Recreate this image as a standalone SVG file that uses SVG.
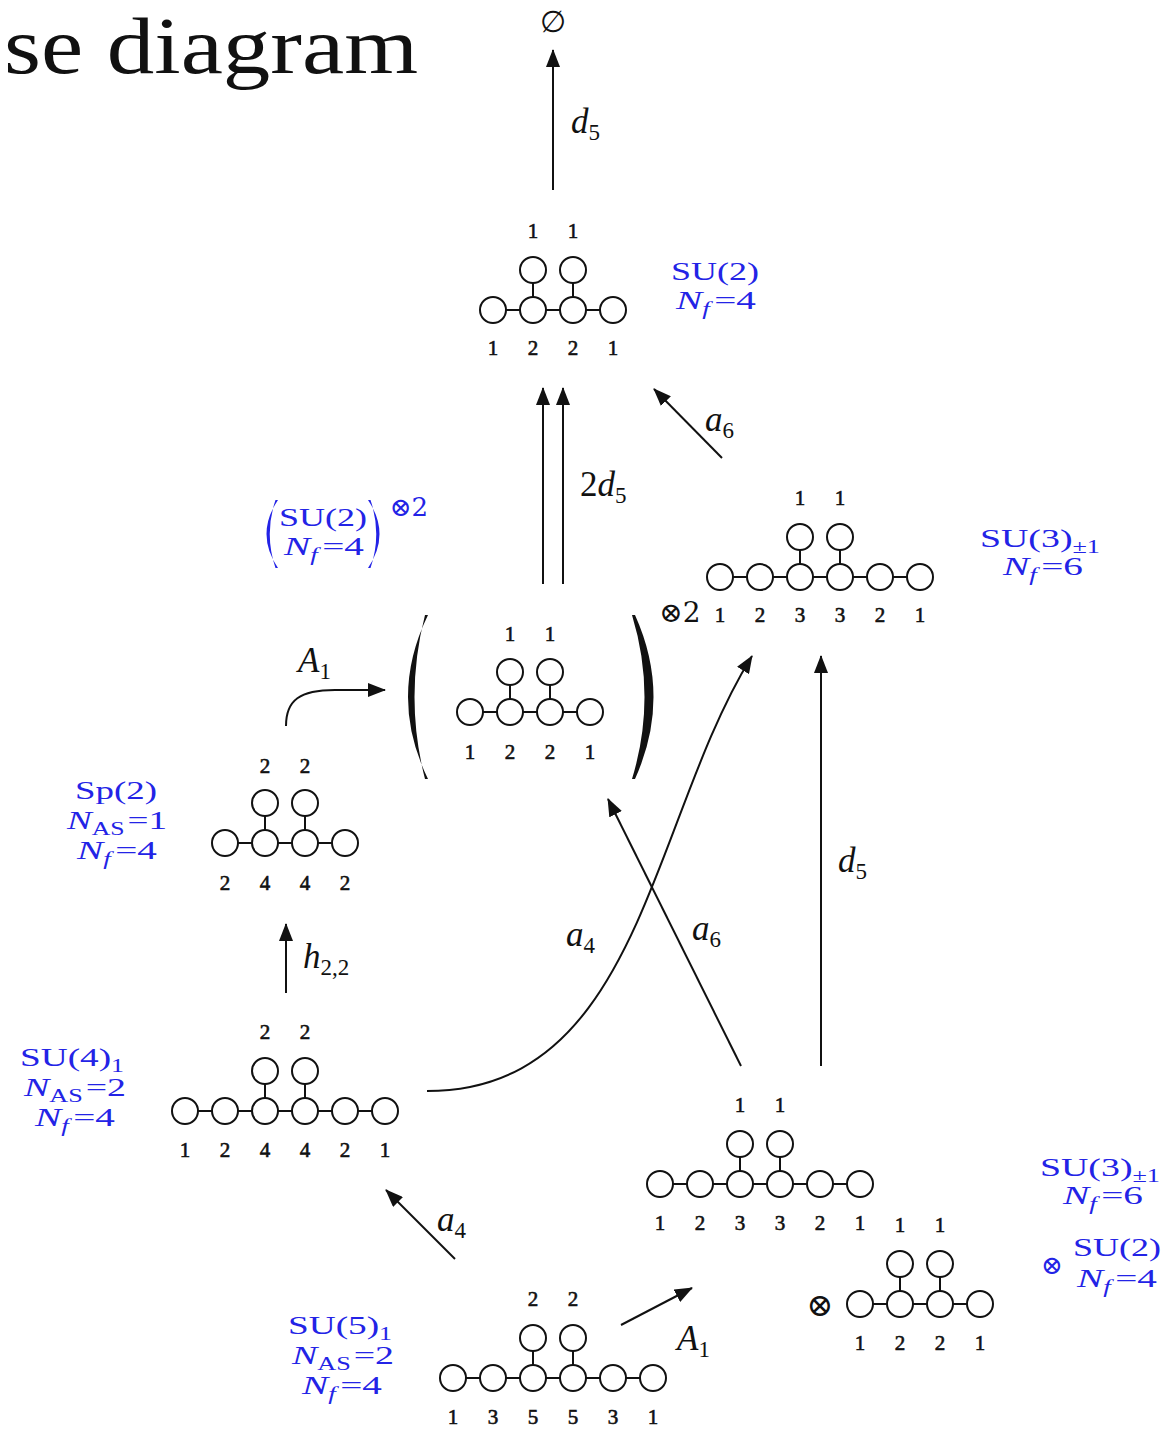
<svg xmlns="http://www.w3.org/2000/svg" width="1165" height="1429" viewBox="0 0 1165 1429">
<defs>
<style>
.bg{fill:#ffffff}
.ln{stroke:#111;stroke-width:2;fill:none}
.nd{stroke:#111;stroke-width:2;fill:#fff}
.num{font-family:"Liberation Serif",serif;font-size:21px;fill:#111;stroke:#111;stroke-width:0.6;text-anchor:middle}
.blue{font-family:"Liberation Serif",serif;font-size:26px;fill:#2323e6;text-anchor:middle}
.math{font-family:"Liberation Serif",serif;font-size:35px;font-style:italic;fill:#111}
.sub{font-size:23px;font-style:normal}
.bsub{font-size:18px}
.it{font-style:italic}
.arr{stroke:#111;stroke-width:2;fill:none;marker-end:url(#ah)}
</style>
<marker id="ah" markerWidth="18" markerHeight="14" refX="17" refY="7" orient="auto" markerUnits="userSpaceOnUse">
<path d="M0,0 L18,7 L0,14 z" fill="#111"/>
</marker>
</defs>
<rect class="bg" width="1165" height="1429"/>

<text x="4" y="73" font-family="Liberation Serif, serif" font-size="80" fill="#111" textLength="414" lengthAdjust="spacingAndGlyphs">se diagram</text>

<g id="connectors">
<path class="arr" d="M553,190 V50"/>
<path class="arr" d="M543,584 V388"/>
<path class="arr" d="M563,584 V388"/>
<path class="arr" d="M722,458 L654,389"/>
<path class="arr" d="M286,726 C286,700 300,690 335,690 L385,690"/>
<path class="arr" d="M286,993 V924"/>
<path class="arr" d="M427,1091 C640,1091 650,820 752,656"/>
<path class="arr" d="M741,1066 L608,799"/>
<path class="arr" d="M821,1066 V656"/>
<path class="arr" d="M455,1259 L386,1190"/>
<path class="arr" d="M621,1325 L692,1288"/>
</g>

<g id="edge-labels">
<text x="553" y="32" font-family="DejaVu Serif, serif" font-size="30" fill="#111" text-anchor="middle">∅</text>
<text class="math" x="571" y="133">d<tspan class="sub" dy="7">5</tspan></text>
<text class="math" x="580" y="496"><tspan font-style="normal">2</tspan>d<tspan class="sub" dy="7">5</tspan></text>
<text class="math" x="705" y="431">a<tspan class="sub" dy="7">6</tspan></text>
<text class="math" x="298" y="672">A<tspan class="sub" dy="7">1</tspan></text>
<text class="math" x="303" y="968">h<tspan class="sub" dy="7">2,2</tspan></text>
<text class="math" x="566" y="946">a<tspan class="sub" dy="7">4</tspan></text>
<text class="math" x="692" y="940">a<tspan class="sub" dy="7">6</tspan></text>
<text class="math" x="838" y="872">d<tspan class="sub" dy="7">5</tspan></text>
<text class="math" x="437" y="1231">a<tspan class="sub" dy="7">4</tspan></text>
<text class="math" x="677" y="1350">A<tspan class="sub" dy="7">1</tspan></text>
</g>

<!-- top SU(2) quiver -->
<g id="node-su2-top">
<path class="ln" d="M493,310 H613 M533,270 V310 M573,270 V310"/>
<circle class="nd" cx="493" cy="310" r="13"/><circle class="nd" cx="533" cy="310" r="13"/><circle class="nd" cx="573" cy="310" r="13"/><circle class="nd" cx="613" cy="310" r="13"/>
<circle class="nd" cx="533" cy="270" r="13"/><circle class="nd" cx="573" cy="270" r="13"/>
<text class="num" x="533" y="238">1</text><text class="num" x="573" y="238">1</text>
<text class="num" x="493" y="355">1</text><text class="num" x="533" y="355">2</text><text class="num" x="573" y="355">2</text><text class="num" x="613" y="355">1</text>
<text class="blue" x="715" y="280" textLength="88" lengthAdjust="spacingAndGlyphs">SU(2)</text>
<text class="blue" x="716" y="309" textLength="80" lengthAdjust="spacingAndGlyphs"><tspan class="it">N</tspan><tspan class="it bsub" dy="6">f</tspan><tspan dy="-6" dx="3">=4</tspan></text>
</g>

<!-- bracketed SU(2) quiver -->
<g id="node-su2-pair">
<path d="M428,615 Q388,697 428,779 L425,779 Q404,697 425,615 Z" fill="#111"/>
<path d="M635,615 Q672,697 635,779 L632,779 Q657,697 632,615 Z" fill="#111"/>
<path class="ln" d="M470,712 H590 M510,672 V712 M550,672 V712"/>
<circle class="nd" cx="470" cy="712" r="13"/><circle class="nd" cx="510" cy="712" r="13"/><circle class="nd" cx="550" cy="712" r="13"/><circle class="nd" cx="590" cy="712" r="13"/>
<circle class="nd" cx="510" cy="672" r="13"/><circle class="nd" cx="550" cy="672" r="13"/>
<text class="num" x="510" y="641">1</text><text class="num" x="550" y="641">1</text>
<text class="num" x="470" y="759">1</text><text class="num" x="510" y="759">2</text><text class="num" x="550" y="759">2</text><text class="num" x="590" y="759">1</text>
<text x="680" y="622" font-family="DejaVu Serif, serif" font-size="28" fill="#111" text-anchor="middle">⊗2</text>
<path d="M278,500 Q255,534 278,568 L275.5,568 Q264,534 275.5,500 Z" fill="#2323e6"/>
<path d="M368,500 Q391,534 368,568 L370.5,568 Q382,534 370.5,500 Z" fill="#2323e6"/>
<text class="blue" x="323" y="526" textLength="88" lengthAdjust="spacingAndGlyphs">SU(2)</text>
<text class="blue" x="324" y="555" textLength="80" lengthAdjust="spacingAndGlyphs"><tspan class="it">N</tspan><tspan class="it bsub" dy="6">f</tspan><tspan dy="-6" dx="3">=4</tspan></text>
<text x="409" y="516" font-family="DejaVu Serif, serif" font-size="26" fill="#2323e6" text-anchor="middle">⊗2</text>
</g>

<!-- top right SU(3) quiver -->
<g id="node-su3-top">
<path class="ln" d="M720,577 H920 M800,537 V577 M840,537 V577"/>
<circle class="nd" cx="720" cy="577" r="13"/><circle class="nd" cx="760" cy="577" r="13"/><circle class="nd" cx="800" cy="577" r="13"/><circle class="nd" cx="840" cy="577" r="13"/><circle class="nd" cx="880" cy="577" r="13"/><circle class="nd" cx="920" cy="577" r="13"/>
<circle class="nd" cx="800" cy="537" r="13"/><circle class="nd" cx="840" cy="537" r="13"/>
<text class="num" x="800" y="505">1</text><text class="num" x="840" y="505">1</text>
<text class="num" x="720" y="622">1</text><text class="num" x="760" y="622">2</text><text class="num" x="800" y="622">3</text><text class="num" x="840" y="622">3</text><text class="num" x="880" y="622">2</text><text class="num" x="920" y="622">1</text>
<text class="blue" x="1040" y="547" textLength="120" lengthAdjust="spacingAndGlyphs">SU(3)<tspan class="bsub" dy="6">±1</tspan></text>
<text class="blue" x="1043" y="575" textLength="80" lengthAdjust="spacingAndGlyphs"><tspan class="it">N</tspan><tspan class="it bsub" dy="6">f</tspan><tspan dy="-6" dx="3">=6</tspan></text>
</g>

<!-- Sp(2) quiver -->
<g id="node-sp2">
<path class="ln" d="M225,843 H345 M265,803 V843 M305,803 V843"/>
<circle class="nd" cx="225" cy="843" r="13"/><circle class="nd" cx="265" cy="843" r="13"/><circle class="nd" cx="305" cy="843" r="13"/><circle class="nd" cx="345" cy="843" r="13"/>
<circle class="nd" cx="265" cy="803" r="13"/><circle class="nd" cx="305" cy="803" r="13"/>
<text class="num" x="265" y="773">2</text><text class="num" x="305" y="773">2</text>
<text class="num" x="225" y="890">2</text><text class="num" x="265" y="890">4</text><text class="num" x="305" y="890">4</text><text class="num" x="345" y="890">2</text>
<text class="blue" x="116" y="799" textLength="82" lengthAdjust="spacingAndGlyphs">Sp(2)</text>
<text class="blue" x="117" y="829" textLength="100" lengthAdjust="spacingAndGlyphs"><tspan class="it">N</tspan><tspan class="bsub" dy="6">AS</tspan><tspan dy="-6" dx="2">=1</tspan></text>
<text class="blue" x="117" y="859" textLength="80" lengthAdjust="spacingAndGlyphs"><tspan class="it">N</tspan><tspan class="it bsub" dy="6">f</tspan><tspan dy="-6" dx="3">=4</tspan></text>
</g>

<!-- SU(4) quiver -->
<g id="node-su4">
<path class="ln" d="M185,1111 H385 M265,1071 V1111 M305,1071 V1111"/>
<circle class="nd" cx="185" cy="1111" r="13"/><circle class="nd" cx="225" cy="1111" r="13"/><circle class="nd" cx="265" cy="1111" r="13"/><circle class="nd" cx="305" cy="1111" r="13"/><circle class="nd" cx="345" cy="1111" r="13"/><circle class="nd" cx="385" cy="1111" r="13"/>
<circle class="nd" cx="265" cy="1071" r="13"/><circle class="nd" cx="305" cy="1071" r="13"/>
<text class="num" x="265" y="1039">2</text><text class="num" x="305" y="1039">2</text>
<text class="num" x="185" y="1157">1</text><text class="num" x="225" y="1157">2</text><text class="num" x="265" y="1157">4</text><text class="num" x="305" y="1157">4</text><text class="num" x="345" y="1157">2</text><text class="num" x="385" y="1157">1</text>
<text class="blue" x="72" y="1066" textLength="104" lengthAdjust="spacingAndGlyphs">SU(4)<tspan class="bsub" dy="6">1</tspan></text>
<text class="blue" x="75" y="1096" textLength="102" lengthAdjust="spacingAndGlyphs"><tspan class="it">N</tspan><tspan class="bsub" dy="6">AS</tspan><tspan dy="-6" dx="2">=2</tspan></text>
<text class="blue" x="75" y="1126" textLength="80" lengthAdjust="spacingAndGlyphs"><tspan class="it">N</tspan><tspan class="it bsub" dy="6">f</tspan><tspan dy="-6" dx="3">=4</tspan></text>
</g>

<!-- bottom SU(3) x SU(2) quivers -->
<g id="node-su3-su2">
<path class="ln" d="M660,1184 H860 M740,1144 V1184 M780,1144 V1184"/>
<circle class="nd" cx="660" cy="1184" r="13"/><circle class="nd" cx="700" cy="1184" r="13"/><circle class="nd" cx="740" cy="1184" r="13"/><circle class="nd" cx="780" cy="1184" r="13"/><circle class="nd" cx="820" cy="1184" r="13"/><circle class="nd" cx="860" cy="1184" r="13"/>
<circle class="nd" cx="740" cy="1144" r="13"/><circle class="nd" cx="780" cy="1144" r="13"/>
<text class="num" x="740" y="1112">1</text><text class="num" x="780" y="1112">1</text>
<text class="num" x="660" y="1230">1</text><text class="num" x="700" y="1230">2</text><text class="num" x="740" y="1230">3</text><text class="num" x="780" y="1230">3</text><text class="num" x="820" y="1230">2</text><text class="num" x="860" y="1230">1</text>
<text x="820" y="1316" font-family="DejaVu Serif, serif" font-size="32" fill="#111" text-anchor="middle">⊗</text>
<path class="ln" d="M860,1304 H980 M900,1264 V1304 M940,1264 V1304"/>
<circle class="nd" cx="860" cy="1304" r="13"/><circle class="nd" cx="900" cy="1304" r="13"/><circle class="nd" cx="940" cy="1304" r="13"/><circle class="nd" cx="980" cy="1304" r="13"/>
<circle class="nd" cx="900" cy="1264" r="13"/><circle class="nd" cx="940" cy="1264" r="13"/>
<text class="num" x="900" y="1232">1</text><text class="num" x="940" y="1232">1</text>
<text class="num" x="860" y="1350">1</text><text class="num" x="900" y="1350">2</text><text class="num" x="940" y="1350">2</text><text class="num" x="980" y="1350">1</text>
<text class="blue" x="1100" y="1176" textLength="120" lengthAdjust="spacingAndGlyphs">SU(3)<tspan class="bsub" dy="6">±1</tspan></text>
<text class="blue" x="1103" y="1204" textLength="80" lengthAdjust="spacingAndGlyphs"><tspan class="it">N</tspan><tspan class="it bsub" dy="6">f</tspan><tspan dy="-6" dx="3">=6</tspan></text>
<text x="1052" y="1274" font-family="DejaVu Serif, serif" font-size="26" fill="#2323e6" text-anchor="middle">⊗</text>
<text class="blue" x="1117" y="1256" textLength="88" lengthAdjust="spacingAndGlyphs">SU(2)</text>
<text class="blue" x="1117" y="1287" textLength="80" lengthAdjust="spacingAndGlyphs"><tspan class="it">N</tspan><tspan class="it bsub" dy="6">f</tspan><tspan dy="-6" dx="3">=4</tspan></text>
</g>

<!-- SU(5) quiver -->
<g id="node-su5">
<path class="ln" d="M453,1378 H653 M533,1338 V1378 M573,1338 V1378"/>
<circle class="nd" cx="453" cy="1378" r="13"/><circle class="nd" cx="493" cy="1378" r="13"/><circle class="nd" cx="533" cy="1378" r="13"/><circle class="nd" cx="573" cy="1378" r="13"/><circle class="nd" cx="613" cy="1378" r="13"/><circle class="nd" cx="653" cy="1378" r="13"/>
<circle class="nd" cx="533" cy="1338" r="13"/><circle class="nd" cx="573" cy="1338" r="13"/>
<text class="num" x="533" y="1306">2</text><text class="num" x="573" y="1306">2</text>
<text class="num" x="453" y="1424">1</text><text class="num" x="493" y="1424">3</text><text class="num" x="533" y="1424">5</text><text class="num" x="573" y="1424">5</text><text class="num" x="613" y="1424">3</text><text class="num" x="653" y="1424">1</text>
<text class="blue" x="340" y="1334" textLength="104" lengthAdjust="spacingAndGlyphs">SU(5)<tspan class="bsub" dy="6">1</tspan></text>
<text class="blue" x="343" y="1364" textLength="102" lengthAdjust="spacingAndGlyphs"><tspan class="it">N</tspan><tspan class="bsub" dy="6">AS</tspan><tspan dy="-6" dx="2">=2</tspan></text>
<text class="blue" x="342" y="1394" textLength="80" lengthAdjust="spacingAndGlyphs"><tspan class="it">N</tspan><tspan class="it bsub" dy="6">f</tspan><tspan dy="-6" dx="3">=4</tspan></text>
</g>
</svg>
